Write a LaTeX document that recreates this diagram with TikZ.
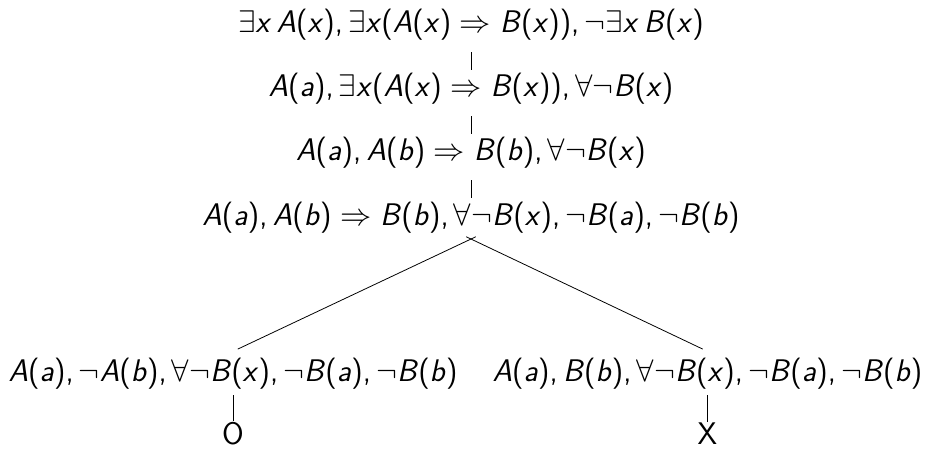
\documentclass[tikz,border=0pt]{standalone}
\usepackage{fix-cm}
\usepackage{amsmath}
\usepackage{tikz}
\usetikzlibrary{positioning}

\newcommand{\pred}[2]{\textit{#1}(\textit{#2})}
\newcommand{\qex}{$\exists$}
\newcommand{\qall}{$\forall$}
\newcommand{\nt}{$\neg$}
\newcommand{\imp}{$\;\Rightarrow\;$}
\newcommand{\sep}{,\,}

\begin{document}
\begin{tikzpicture}[
    seqline/.style={font=\fontsize{17.8}{21}\selectfont\sffamily, anchor=base},
    leafnode/.style={font=\fontsize{17.8}{21}\selectfont\sffamily, anchor=base, inner sep=0pt},
    branch/.style={line width=0.45pt},
    stem/.style={branch, shorten <=3pt, shorten >=-1.5pt},
  ]
    \useasboundingbox (0,0) rectangle (18.52,-8.98);

    \node[seqline] (r1) at (9.42,-0.66) {\qex\textit{x}\,\pred{A}{x}\sep\qex\textit{x}(\pred{A}{x}\imp\pred{B}{x})\sep\nt\qex\textit{x}\,\pred{B}{x}};
    \node[seqline, below=1.28cm of r1.base, anchor=base] (r2) {\pred{A}{a}\sep\qex\textit{x}(\pred{A}{x}\imp\pred{B}{x})\sep\qall\nt\pred{B}{x}};
    \node[seqline, below=1.28cm of r2.base, anchor=base] (r3) {\pred{A}{a}\sep\pred{A}{b}\imp\pred{B}{b}\sep\qall\nt\pred{B}{x}};
    \node[seqline, below=1.28cm of r3.base, anchor=base] (r4) {\pred{A}{a}\sep\pred{A}{b}\imp\pred{B}{b}\sep\qall\nt\pred{B}{x}\sep\nt\pred{B}{a}\sep\nt\pred{B}{b}};

    \node[seqline, below left=3.12cm and 4.76cm of r4.base, anchor=base] (c1) {\pred{A}{a}\sep\nt\pred{A}{b}\sep\qall\nt\pred{B}{x}\sep\nt\pred{B}{a}\sep\nt\pred{B}{b}};
    \node[seqline, below right=3.12cm and 4.73cm of r4.base, anchor=base] (c2) {\pred{A}{a}\sep\pred{B}{b}\sep\qall\nt\pred{B}{x}\sep\nt\pred{B}{a}\sep\nt\pred{B}{b}};

    \node[leafnode, below=1.27cm of c1.base, anchor=base] (l1) {O};
    \node[leafnode, below=1.27cm of c2.base, anchor=base] (l2) {X};

    % tree edges
    \draw[stem] (r1.south) -- (r2.north);
    \draw[stem] (r2.south) -- (r3.north);
    \draw[stem] (r3.south) -- (r4.north);
    \draw[branch, shorten <=-3pt, shorten >=3pt] (r4.south) -- (c1.north);
    \draw[branch, shorten <=-3pt, shorten >=3pt] (r4.south) -- (c2.north);
    \draw[branch, shorten >=0.5pt] (c1.south) -- (l1.north);
    \draw[branch, shorten >=0.5pt] (c2.south) -- (l2.north);
  \end{tikzpicture}
\end{document}
